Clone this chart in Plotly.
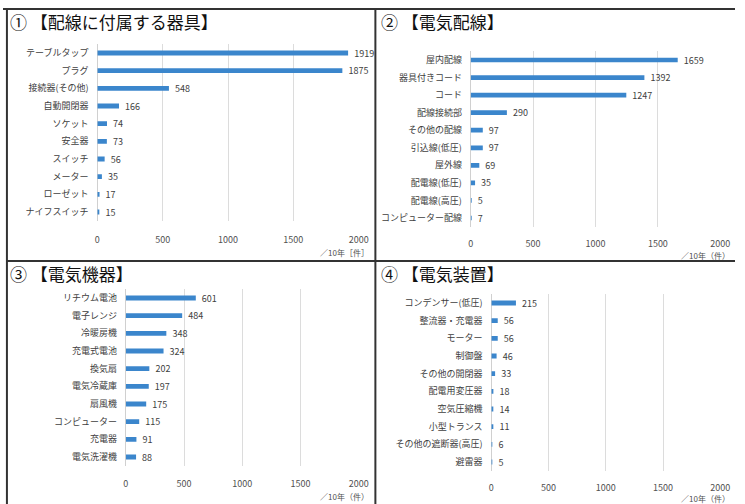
import plotly.graph_objects as go

W, H = 745, 504

titles = ["① 【配線に付属する器具】", "② 【電気配線】", "③ 【電気機器】", "④ 【電気装置】"]

cats1 = ["テーブルタップ", "プラグ", "接続器(その他)", "自動開閉器", "ソケット", "安全器", "スイッチ", "メーター", "ローゼット", "ナイフスイッチ"]
vals1 = [1919, 1875, 548, 166, 74, 73, 56, 35, 17, 15]

cats2 = ["屋内配線", "器具付きコード", "コード", "配線接続部", "その他の配線", "引込線(低圧)", "屋外線", "配電線(低圧)", "配電線(高圧)", "コンピューター配線"]
vals2 = [1659, 1392, 1247, 290, 97, 97, 69, 35, 5, 7]

cats3 = ["リチウム電池", "電子レンジ", "冷暖房機", "充電式電池", "換気扇", "電気冷蔵庫", "扇風機", "コンピューター", "充電器", "電気洗濯機"]
vals3 = [601, 484, 348, 324, 202, 197, 175, 115, 91, 88]

cats4 = ["コンデンサー(低圧)", "整流器・充電器", "モーター", "制御盤", "その他の開閉器", "配電用変圧器", "空気圧縮機", "小型トランス", "その他の遮断器(高圧)", "避雷器"]
vals4 = [215, 56, 56, 46, 33, 18, 14, 11, 6, 5]

x_ticks = [0, 500, 1000, 1500, 2000]
unit_labels = ["／10年［件］", "／10年（件）", "／10年（件）", "／10年（件）"]

# pixel layout for each panel
panels = [
    dict(x0=96, x1=362, yf=53, yl=212, tl=10, tx=5, ty=22, ux=375, uy=252),
    dict(x0=476, x1=730, yf=60, yl=218, tl=8, tx=383, ty=22, ux=742, uy=255),
    dict(x0=125, x1=362, yf=298, yl=457, tl=9, tx=5, ty=273, ux=375, uy=496),
    dict(x0=497, x1=730, yf=303, yl=462, tl=8, tx=383, ty=273, ux=742, uy=498),
]
data = [(cats1, vals1), (cats2, vals2), (cats3, vals3), (cats4, vals4)]

FONT = "Noto Sans CJK JP"
BLUE = "#3b86cc"
GAP = "\u00a0\u00a0\u00a0"

fig = go.Figure()
layout = dict(width=W, height=H, margin=dict(l=0, r=0, t=0, b=0),
              paper_bgcolor="white", plot_bgcolor="white", showlegend=False,
              font=dict(family=FONT, color="#404040"))
annotations = []
for i, (p, (cats, vals)) in enumerate(zip(panels, data)):
    n = len(cats)
    step = (p["yl"] - p["yf"]) / (n - 1)
    top = p["yf"] - step / 2
    bot = p["yl"] + step / 2
    xa = "x" if i == 0 else f"x{i+1}"
    ya = "y" if i == 0 else f"y{i+1}"
    fig.add_trace(go.Bar(
        x=vals, y=cats, orientation="h", xaxis=xa, yaxis=ya,
        marker=dict(color=BLUE, line=dict(width=0)), width=0.27,
        text=[GAP + str(v) for v in vals], textposition="outside", constraintext="none",
        textfont=dict(size=9, color="#404040", family=FONT), cliponaxis=False,
    ))
    key = "" if i == 0 else str(i + 1)
    layout["xaxis" + key] = dict(
        domain=[p["x0"] / W, p["x1"] / W], range=[0, 2000], anchor=ya,
        tickvals=x_ticks, showgrid=True, gridcolor="#dcdcdc", gridwidth=1,
        zeroline=True, zerolinecolor="#d0d0d0", zerolinewidth=1,
        ticks="outside", ticklen=p["tl"], tickcolor="rgba(0,0,0,0)",
        tickfont=dict(size=9, color="#505050", family=FONT), showline=False,
    )
    layout["yaxis" + key] = dict(
        domain=[1 - bot / H, 1 - top / H], anchor=xa, autorange="reversed",
        type="category", categoryorder="array", categoryarray=cats,
        tickfont=dict(size=9, color="#404040", family=FONT),
        ticks="outside", ticklen=6, tickcolor="rgba(0,0,0,0)", showgrid=False,
        showline=False,
    )
    annotations.append(dict(text=titles[i], x=p["tx"] / W, y=1 - p["ty"] / H,
                            xref="paper", yref="paper", xanchor="left", yanchor="middle",
                            showarrow=False, font=dict(size=17, color="#111111", family=FONT)))
    annotations.append(dict(text=unit_labels[i], x=p["ux"] / W, y=1 - p["uy"] / H,
                            xref="paper", yref="paper", xanchor="right", yanchor="middle",
                            showarrow=False, font=dict(size=8, color="#505050", family=FONT)))

layout["annotations"] = annotations
lc = "#333333"
layout["shapes"] = [
    dict(type="line", xref="paper", yref="paper", x0=0, x1=1, y0=1 - 9 / H, y1=1 - 9 / H, line=dict(color=lc, width=2)),
    dict(type="line", xref="paper", yref="paper", x0=4 / W, x1=4 / W, y0=0, y1=1 - 9 / H, line=dict(color=lc, width=2)),
    dict(type="line", xref="paper", yref="paper", x0=4 / W, x1=1, y0=1 - 261 / H, y1=1 - 261 / H, line=dict(color=lc, width=2)),
    dict(type="line", xref="paper", yref="paper", x0=379 / W, x1=379 / W, y0=0, y1=1 - 9 / H, line=dict(color=lc, width=2)),
]
fig.update_layout(**layout)
fig.write_html("out.html")
